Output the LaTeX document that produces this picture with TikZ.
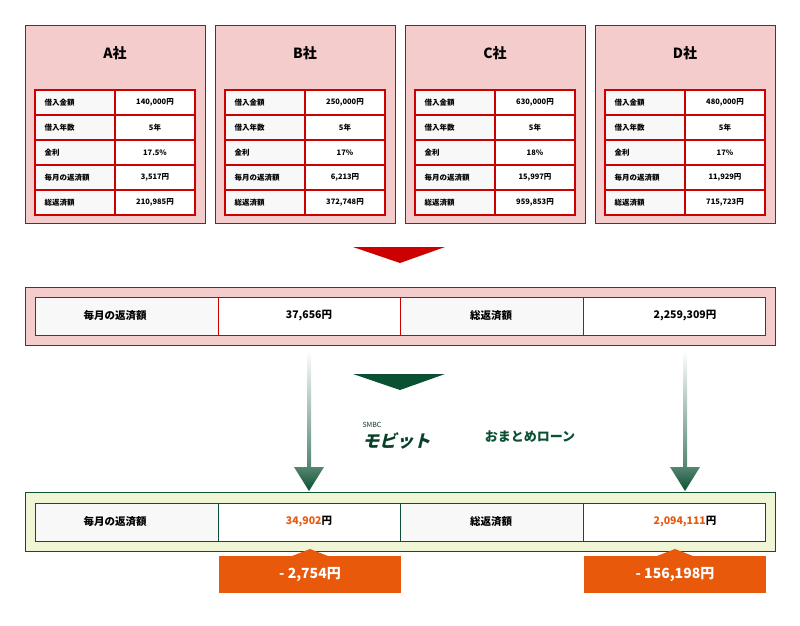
\documentclass[tikz,border=0pt]{standalone}
\usepackage{fontspec}
\setmainfont{Noto Sans CJK JP}
\usetikzlibrary{shadings}
\definecolor{rd}{HTML}{CC0000}
\definecolor{pk}{HTML}{F5CCCC}
\definecolor{gr}{HTML}{0B5033}
\definecolor{lg}{HTML}{F0F5D5}
\definecolor{og}{HTML}{E8590C}
\definecolor{cl}{HTML}{F8F8F8}
\tikzset{
 comp/.style={draw=rd,fill=pk,line width=0.8pt},
 cellL/.style={draw=rd,fill=cl,line width=2pt},
 cellR/.style={draw=rd,fill=white,line width=2pt},
 txs/.style={font=\fontsize{7.5}{9}\selectfont\bfseries},
 txm/.style={font=\fontsize{10.5}{12}\selectfont\bfseries},
}
\begin{document}
\begin{tikzpicture}[x=1pt,y=-1pt]
\useasboundingbox (0,0) rectangle (800,625);
\foreach \X/\T/\a/\b/\c/\d/\e in {25/A/{140,000}/5/{17.5\%}/{3,517}/{210,985},215/B/{250,000}/5/{17\%}/{6,213}/{372,748},405/C/{630,000}/5/{18\%}/{15,997}/{959,853},595/D/{480,000}/5/{17\%}/{11,929}/{715,723}}{
 \draw[comp] (\X,25) rectangle ++(180,198);
 \node[font=\fontsize{14}{16}\selectfont\bfseries] (t\T) at (\X+90,53) {\T 社};
 \foreach \i/\L/\R in {0/借入金額/{\a 円},1/借入年数/{\b 年},2/金利/{\c},3/毎月の返済額/{\d 円},4/総返済額/{\e 円}}{
  \draw[cellL] (\X+10,90+25*\i) rectangle ++(80,25);
  \draw[cellR] (\X+90,90+25*\i) rectangle ++(80,25);
  \node[txs,anchor=west] (l\T\i) at (\X+16,102.5+25*\i) {\L};
  \node[txs] (r\T\i) at (\X+130,102.5+25*\i) {\R};
 }
}
\fill[rd] (353,247) -- (445,247) -- (400,263) -- cycle;
\draw[comp] (25,287) rectangle (775,345);
\draw[draw=rd,fill=cl,line width=0.8pt] (35,297) rectangle (218,335) (400,297) rectangle (583,335);
\draw[draw=rd,fill=white,line width=0.8pt] (218,297) rectangle (400,335) (583,297) rectangle (765,335);
\node[txm] (m1) at (115,316) {毎月の返済額};
\node[txm] (m2) at (309,316) {37,656円};
\node[txm] (m3) at (491,316) {総返済額};
\node[txm] (m4) at (685,316) {2,259,309円};
\fill[gr] (353,374) -- (445,374) -- (400,390) -- cycle;
\node[font=\fontsize{7}{8}\selectfont\rmfamily,text=gr!70!black] (smbc) at (372,425) {SMBC};
\node[font=\fontsize{17}{18}\selectfont\bfseries,text=gr!80!black,xslant=0.25] (mob) at (398,441) {モビット};
\node[font=\fontsize{13}{15}\selectfont\bfseries,text=gr] (om) at (530,437) {おまとめローン};
\foreach \x in {309,685}{
 \shade[top color=white,bottom color=gr!70!white] (\x-2,350) rectangle (\x+2,468);
 \shade[top color=gr!70!white,bottom color=gr] (\x-15,467) -- (\x+15,467) -- (\x,491) -- cycle;
}
\draw[draw=gr,fill=lg,line width=0.8pt] (25,492) rectangle (775,551);
\draw[draw=gr,fill=cl,line width=0.8pt] (35,503) rectangle (218,541) (400,503) rectangle (583,541);
\draw[draw=gr,fill=white,line width=0.8pt] (218,503) rectangle (400,541) (583,503) rectangle (765,541);
\node[txm] (n1) at (115,522) {毎月の返済額};
\node[txm] (n2) at (309,522) {\textcolor{og}{34,902}円};
\node[txm] (n3) at (491,522) {総返済額};
\node[txm] (n4) at (685,522) {\textcolor{og}{2,094,111}円};
\foreach \x/\y/\t in {219/310/{- 2,754円},584/675/{- 156,198円}}{
 \fill[og] (\y-18,556) -- (\y,549) -- (\y+18,556) -- cycle;
 \fill[og] (\x,556) rectangle ++(182,37);
 \node[font=\fontsize{14}{16}\selectfont\bfseries,text=white] at (\x+91,575) {\t};
}
\end{tikzpicture}
\end{document}
